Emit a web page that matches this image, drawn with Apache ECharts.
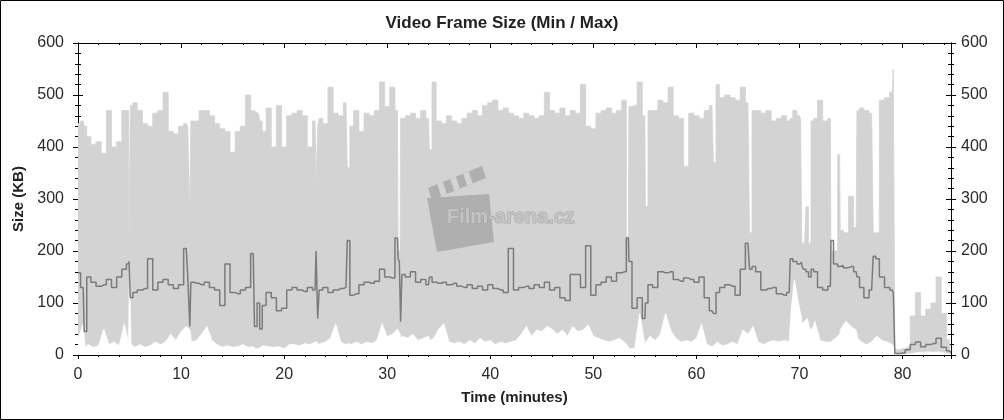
<!DOCTYPE html>
<html>
<head>
<meta charset="utf-8">
<script src="https://cdn.jsdelivr.net/npm/echarts@6/dist/echarts.min.js"></script>
<style>
html,body{margin:0;padding:0;background:#fff;}
#chart{width:1004px;height:420px;}
</style>
</head>
<body>
<div id="chart"></div>
<script>
// Time in minutes (sample positions)
const times = [
  0,0.5,0.7,1,1.5,2,2.5,3,3.5,4,4.5,4.9,
  5,5.15,5.5,6,6.5,7,7.5,8,8.5,9,9.5,
  10,10.5,10.8,10.9,11,11.5,12,12.5,13,13.5,14,14.5,
  15,15.5,16,16.5,17,17.25,17.5,17.75,18,18.5,19,19.5,
  20,20.5,21,21.5,22,22.5,23,23.2,23.3,23.5,24,24.5,
  25,25.5,26,26.25,26.5,27,27.5,28,28.5,29,29.5,
  30,30.5,31,31.1,31.25,31.35,31.5,32,32.5,33,33.5,34,34.2,34.5,
  35,35.5,36,36.5,37,37.5,38,38.5,39,39.5,
  40,40.5,41,41.5,42,42.5,43,43.5,44,44.5,
  45,45.5,46,46.5,47,47.5,48,48.5,49,49.5,
  50,50.5,51,51.5,52,52.5,53,53.4,53.5,54,54.5,
  55,55.1,55.5,56,56.5,57,57.5,58,58.5,59,59.5,
  60,60.5,61,61.5,61.8,62,62.5,63,63.5,64,64.5,
  65,65.3,65.5,66,66.5,67,67.5,68,68.5,69,69.2,69.5,
  70,70.2,70.25,70.5,70.75,71,71.25,71.5,72,72.5,73,73.1,73.5,73.9,74,74.5,
  75,75.5,75.65,76,76.5,77,77.3,77.5,78,78.5,79,79.2,79.3,79.5,
  80,80.5,81,81.5,82,82.5,83,83.5,84,84.5,84.7
];
// Max frame size (KB)
const maxKB = [
  445,450,440,420,405,410,388,470,400,410,470,470,
  200,480,485,470,445,440,465,470,505,430,425,
  440,445,440,267,450,450,470,470,460,445,435,430,
  390,430,440,500,470,468,465,450,430,475,400,480,
  400,460,465,470,460,400,450,325,440,455,445,515,
  465,460,485,360,440,470,430,465,460,470,525,
  478,515,470,200,200,455,455,460,465,455,470,455,395,525,
  450,445,460,450,445,455,465,470,460,480,
  485,490,470,475,465,460,455,465,460,455,
  460,505,470,465,475,460,470,465,520,440,
  435,465,470,475,465,470,490,228,478,480,525,
  460,286,470,470,490,485,515,460,455,363,465,
  460,455,470,480,370,520,495,500,495,490,515,
  485,235,470,470,465,470,450,455,460,450,455,470,
  460,455,215,215,285,215,450,455,490,450,455,200,200,385,240,235,
  305,245,470,475,470,465,235,235,490,495,505,550,12,10,
  12,15,75,120,75,88,100,150,80,30,15
];
// Min frame size (KB)
const minKB = [
  30,60,15,20,15,18,50,20,25,18,60,25,
  160,20,15,20,15,18,25,20,25,40,28,
  45,55,50,45,25,28,40,55,28,20,15,18,
  15,16,20,15,16,12,12,16,18,16,15,16,
  12,20,20,18,22,20,25,25,20,22,25,32,
  60,25,20,22,20,25,20,25,22,28,60,
  35,40,50,50,40,32,36,32,40,28,32,36,28,32,
  50,60,25,22,25,20,28,22,32,25,
  28,20,25,22,25,28,40,55,36,48,
  45,55,50,40,48,36,55,45,48,58,
  36,32,28,25,28,32,25,16,12,12,80,
  20,25,36,28,40,80,48,32,25,28,25,
  32,60,20,16,20,25,18,20,25,20,48,
  40,48,55,25,20,25,28,25,28,25,90,145,
  90,70,60,65,70,50,50,65,28,25,25,28,32,40,50,65,
  55,48,32,25,20,25,32,36,28,25,20,16,0,0,
  1,2,3,5,5,6,5,6,4,2,1
];
// Average frame size (KB)
const avgKB = [
  158,130,45,150,140,132,135,145,130,150,165,175,
  180,110,120,125,128,185,125,140,145,135,128,
  135,205,150,55,140,138,135,140,130,125,95,175,
  120,118,125,130,195,55,100,50,95,120,110,85,
  90,125,130,125,122,130,125,200,70,125,130,120,
  125,128,130,220,115,118,135,140,138,142,165,
  150,148,225,185,180,64,155,150,160,140,145,135,150,140,
  138,140,135,138,132,130,135,128,132,125,
  135,128,125,120,205,125,130,132,128,135,
  130,140,125,130,110,105,155,155,130,210,
  115,135,140,150,142,158,160,225,180,90,110,
  70,100,135,130,160,158,160,145,142,148,145,
  140,150,110,85,80,120,130,135,132,115,165,
  215,165,170,160,125,128,130,118,115,120,185,180,
  175,178,172,165,160,150,165,160,130,125,132,220,175,170,172,168,
  170,160,150,130,110,125,190,185,150,130,125,120,3,3,
  4,10,20,25,16,20,22,32,15,8,5
];

const pair = arr => times.map((t, i) => [t, arr[i]]);
const FONT = 'Liberation Sans';
const black = '#000';

const chart = echarts.init(document.getElementById('chart'), null, {renderer: 'canvas'});

function xAx(extra) {
  return Object.assign({
    type: 'value', min: 0, max: 84.7, interval: 10,
    axisLine: {show: true, onZero: false, lineStyle: {color: black, width: 1}},
    splitLine: {show: false},
    axisLabel: {show: false},
    axisTick: {show: true, length: 5, lineStyle: {color: black}},
    minorTick: {show: true, splitNumber: 5, length: 2, lineStyle: {color: black}}
  }, extra);
}
function yAx(extra) {
  return Object.assign({
    type: 'value', min: 0, max: 600, interval: 100,
    axisLine: {show: true, onZero: false, lineStyle: {color: black, width: 1}},
    splitLine: {show: false},
    axisLabel: {show: false},
    axisTick: {show: true, length: 5, lineStyle: {color: black}},
    minorTick: {show: true, splitNumber: 5, length: 3, lineStyle: {color: black}}
  }, extra);
}
const labelStyle = {fontFamily: FONT, fontSize: 16, color: '#2a2a2a'};
const nameStyle = {fontFamily: FONT, fontSize: 15, fontWeight: 'bold', color: '#222'};

const option = {
  animation: false,
  backgroundColor: '#fff',
  title: {
    text: 'Video Frame Size (Min / Max)',
    left: 'center', top: 10,
    textStyle: {fontFamily: FONT, fontSize: 17, fontWeight: 'bold', color: '#222'}
  },
  grid: {left: 78, right: 53, top: 43, bottom: 65, containLabel: false, outerBoundsMode: 'none'},
  xAxis: [
    xAx({position: 'bottom', name: 'Time (minutes)', nameLocation: 'middle', nameGap: 35,
      nameTextStyle: nameStyle,
      axisLabel: Object.assign({show: true, margin: 12, showMaxLabel: false}, labelStyle),
      axisTick: {show: true, inside: false, length: 4, lineStyle: {color: black}},
      minorTick: {show: true, splitNumber: 5, length: 2, lineStyle: {color: black}}}),
    xAx({position: 'bottom', axisTick: {show: true, inside: true, length: 5, lineStyle: {color: black}},
      minorTick: {show: true, splitNumber: 5, length: 2, lineStyle: {color: black}}}),
    xAx({position: 'top', axisTick: {show: true, inside: true, length: 5, lineStyle: {color: black}},
      minorTick: {show: true, splitNumber: 5, length: 2, lineStyle: {color: black}}})
  ],
  yAxis: [
    yAx({position: 'left', name: 'Size (KB)', nameLocation: 'middle', nameGap: 52,
      nameTextStyle: nameStyle,
      axisLabel: Object.assign({show: true, margin: 14}, labelStyle)}),
    yAx({position: 'left', axisTick: {show: true, inside: true, length: 5, lineStyle: {color: black}},
      minorTick: {show: true, splitNumber: 5, length: 3, lineStyle: {color: black}}}),
    yAx({position: 'right', axisLabel: Object.assign({show: true, margin: 10}, labelStyle)}),
    yAx({position: 'right', axisTick: {show: true, inside: true, length: 5, lineStyle: {color: black}},
      minorTick: {show: true, splitNumber: 5, length: 3, lineStyle: {color: black}}})
  ],
  series: [
    {
      name: 'Max', type: 'line', xAxisIndex: 0, yAxisIndex: 0, step: 'middle',
      data: pair(maxKB), showSymbol: false, symbol: 'none', z: 2,
      lineStyle: {width: 0.8, color: '#d3d3d3'},
      areaStyle: {color: '#d3d3d3', opacity: 1}
    },
    {
      name: 'Min', type: 'line', xAxisIndex: 0, yAxisIndex: 0,
      data: pair(minKB), showSymbol: false, symbol: 'none', z: 3,
      lineStyle: {width: 0.8, color: '#ffffff'},
      areaStyle: {color: '#ffffff', opacity: 1}
    },
    {
      name: 'Average', type: 'line', xAxisIndex: 0, yAxisIndex: 0, step: 'middle',
      data: pair(avgKB), showSymbol: false, symbol: 'none', z: 5,
      lineStyle: {width: 1.5, color: '#7b7b7b'}
    }
  ],
  graphic: [
    {type: 'polygon', z: 4, shape: {points: [[427,198],[489,194],[494,242],[437,252]]}, style: {fill: '#afafaf'}},
    {type: 'polygon', z: 4, shape: {points: [[428,188],[482,166],[486,178],[432,200]]}, style: {fill: '#afafaf'}},
    {type: 'polygon', z: 4, shape: {points: [[437.3,184.2],[442.8,182],[446.8,194],[441.3,196.2]]}, style: {fill: '#d4d4d4'}},
    {type: 'polygon', z: 4, shape: {points: [[450.2,179],[455.8,176.7],[459.8,188.7],[454.2,191]]}, style: {fill: '#d4d4d4'}},
    {type: 'polygon', z: 4, shape: {points: [[463.2,173.7],[468.7,171.4],[472.7,183.4],[467.2,185.7]]}, style: {fill: '#d4d4d4'}},
    {type: 'text', z: 4, x: 447, y: 217, style: {text: 'Film-arena.cz', font: 'bold 20px "Liberation Sans"',
      fill: '#c4c4c4', stroke: '#a4a4a4', lineWidth: 1, textVerticalAlign: 'middle'}},
    {type: 'rect', z: 100, shape: {x: 0.5, y: 0.5, width: 1003, height: 419},
      style: {fill: 'none', stroke: '#000', lineWidth: 1}}
  ]
};
chart.setOption(option);
</script>
</body>
</html>
